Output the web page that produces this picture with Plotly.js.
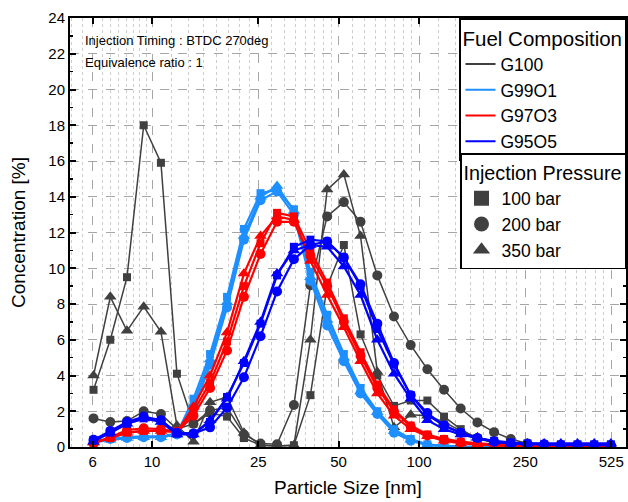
<!DOCTYPE html>
<html>
<head>
<meta charset="utf-8">
<script src="https://cdn.plot.ly/plotly-3.0.1.min.js"></script>
<style>html,body{margin:0;padding:0;background:#fff;}#chart{width:628px;height:502px;}</style>
</head>
<body>
<div id="chart"></div>
<script>
// Particle size bins (nm)
const sizes = [6.04, 6.98, 8.06, 9.31, 10.8, 12.4, 14.3, 16.5, 19.1, 22.1, 25.5, 29.4, 34.0, 39.2, 45.3, 52.3,
               60.4, 69.8, 80.6, 93.1, 107.5, 124.1, 143.3, 165.5, 191.1, 220.7, 254.8, 294.3, 339.8, 392.4, 453.2, 523.3];
const tickVals = [6, 10, 25, 50, 100, 250, 525];
const tickText = ['6', '10', '25', '50', '100', '250', '525'];

// G100
const g100_100 = [3.2, 6.0, 9.5, 18.0, 15.9, 4.1, 1.3, 1.9, 1.7, 0.5, 0.1, 0.05, 0.1, 2.9, 9.0, 11.3,
                  6.3, 4.0, 2.3, 2.6, 2.6, 1.7, 1.0, 0.45, 0.25, 0.15, 0.1, 0.1, 0.1, 0.1, 0.1, 0.1];
const g100_200 = [1.6, 1.4, 1.45, 2.0, 1.85, 1.0, 1.3, 2.05, 2.2, 0.7, 0.2, 0.15, 2.35, 9.05, 12.9, 13.7,
                  12.6, 9.6, 7.3, 5.7, 4.35, 3.2, 2.15, 1.37, 0.83, 0.45, 0.2, 0.1, 0.05, 0.05, 0.05, 0.05];
const g100_350 = [4.0, 8.4, 6.5, 7.85, 6.45, 1.2, 0.3, 2.5, 2.8, 0.8, 0.1, 0.05, 0.1, 6.0, 14.4, 15.25,
                  11.8, 4.2, 1.1, 1.8, 1.75, 1.4, 0.9, 0.55, 0.3, 0.2, 0.15, 0.1, 0.1, 0.1, 0.1, 0.1];
// G99O1
const g99_100 = [0.3, 0.45, 0.55, 0.6, 0.6, 0.75, 2.7, 5.2, 8.4, 12.2, 14.2, 14.4, 13.3, 9.8, 7.4, 5.2,
                 3.3, 2.0, 1.0, 0.45, 0.15, 0.05, 0.02, 0.01, 0, 0, 0, 0, 0, 0, 0, 0];
const g99_200 = [0.3, 0.45, 0.5, 0.55, 0.55, 0.7, 2.1, 4.6, 7.8, 11.6, 13.8, 14.3, 13.0, 9.3, 6.8, 4.8,
                 3.0, 1.85, 0.8, 0.35, 0.1, 0.05, 0.02, 0.01, 0, 0, 0, 0, 0, 0, 0, 0];
const g99_350 = [0.25, 0.4, 0.5, 0.55, 0.55, 0.7, 2.4, 4.9, 8.1, 11.8, 14.0, 14.6, 13.2, 9.5, 7.1, 5.0,
                 3.1, 1.95, 0.9, 0.4, 0.12, 0.05, 0.02, 0.01, 0, 0, 0, 0, 0, 0, 0, 0];
// G97O3
const g97_100 = [0.25, 0.5, 0.8, 0.9, 0.9, 0.85, 2.0, 3.6, 5.9, 9.0, 11.4, 13.1, 12.9, 11.0, 9.2, 7.2,
                 5.3, 3.5, 2.1, 1.2, 0.7, 0.45, 0.3, 0.2, 0.15, 0.1, 0.05, 0.05, 0.02, 0.02, 0.02, 0.02];
const g97_200 = [0.2, 0.55, 0.95, 1.05, 1.0, 0.85, 1.75, 3.3, 5.4, 8.4, 10.8, 12.6, 12.6, 10.7, 9.0, 7.0,
                 5.1, 3.3, 2.0, 1.15, 0.65, 0.4, 0.25, 0.15, 0.1, 0.05, 0.05, 0.02, 0.02, 0.02, 0.02, 0.02];
const g97_350 = [0.25, 0.5, 0.8, 0.9, 0.9, 0.85, 2.25, 4.0, 6.4, 9.7, 11.8, 12.9, 12.7, 10.4, 8.5, 6.7,
                 4.8, 3.0, 1.75, 1.0, 0.6, 0.35, 0.2, 0.15, 0.1, 0.05, 0.05, 0.02, 0.02, 0.02, 0.02, 0.02];
// G95O5
const g95_100 = [0.4, 0.8, 1.3, 1.6, 1.5, 0.75, 0.75, 1.4, 2.8, 4.7, 6.9, 9.6, 11.2, 11.6, 11.5, 10.6,
                 9.0, 6.6, 4.6, 2.9, 1.8, 1.2, 0.8, 0.5, 0.35, 0.25, 0.2, 0.15, 0.15, 0.15, 0.15, 0.15];
const g95_200 = [0.4, 0.9, 1.4, 1.7, 1.5, 0.8, 0.75, 1.1, 2.2, 3.9, 6.2, 8.7, 10.5, 11.3, 11.5, 10.6,
                 9.1, 6.9, 4.7, 2.9, 1.9, 1.2, 0.8, 0.5, 0.3, 0.2, 0.15, 0.15, 0.1, 0.1, 0.1, 0.1];
const g95_350 = [0.3, 0.8, 1.3, 1.6, 1.4, 0.7, 0.7, 1.5, 2.7, 4.8, 7.0, 9.7, 11.0, 11.3, 11.2, 10.1,
                 8.5, 6.0, 4.1, 2.7, 1.5, 1.0, 0.7, 0.5, 0.3, 0.2, 0.2, 0.2, 0.2, 0.2, 0.2, 0.2];

const fuelNames = ['G100', 'G99O1', 'G97O3', 'G95O5'];
const fuelColors = ['#404040', '#1e8fff', '#ff0000', '#0000ff'];
const pressureNames = ['100 bar', '200 bar', '350 bar'];
const pressureSymbols = ['square', 'circle', 'triangle-up'];
const seriesData = [
  [g100_100, g100_200, g100_350],
  [g99_100, g99_200, g99_350],
  [g97_100, g97_200, g97_350],
  [g95_100, g95_200, g95_350]
];

const markerSizes = [8, 10, 11];
const lineWidths = [1.5, 2.2, 2.2, 2.2];

const traces = [];
for (let f = 0; f < fuelNames.length; f++) {
  for (let p = 0; p < pressureNames.length; p++) {
    traces.push({
      type: 'scatter', mode: 'lines+markers',
      x: sizes, y: seriesData[f][p],
      name: fuelNames[f] + ' ' + pressureNames[p],
      showlegend: false,
      line: {color: fuelColors[f], width: lineWidths[f]},
      marker: {symbol: pressureSymbols[p], size: markerSizes[p], color: fuelColors[f]}
    });
  }
}
// legend entries
for (let f = 0; f < fuelNames.length; f++) {
  traces.push({type: 'scatter', mode: 'lines', x: [null], y: [null], name: fuelNames[f],
    legend: 'legend', line: {color: fuelColors[f], width: 2}});
}
for (let p = 0; p < pressureNames.length; p++) {
  traces.push({type: 'scatter', mode: 'markers', x: [null], y: [null], name: pressureNames[p],
    legend: 'legend2', marker: {symbol: pressureSymbols[p], size: 15, color: '#404040'}});
}

// minor grid positions between major ticks (8 subdivisions)
const minorBounds = [2, 6, 10, 25, 50, 100, 250, 525];
const minorVals = [];
for (let i = 0; i < minorBounds.length - 1; i++) {
  const a = minorBounds[i], b = minorBounds[i + 1];
  for (let k = 1; k < 8; k++) minorVals.push(a + (b - a) * k / 8);
}

const font = 'Liberation Sans, Arial, sans-serif';
const layout = {
  width: 628, height: 502,
  margin: {l: 70, r: 2, t: 18, b: 55},
  paper_bgcolor: '#ffffff', plot_bgcolor: '#ffffff',
  font: {family: font, color: '#000000', size: 15},
  xaxis: {
    type: 'log', range: [0.6929, 2.7753],
    tickmode: 'array', tickvals: tickVals, ticktext: tickText,
    ticks: 'inside', ticklen: 6, tickwidth: 2, tickcolor: '#000',
    showline: true, linewidth: 2, linecolor: '#000', mirror: 'ticks',
    showgrid: true, gridcolor: '#a6a6a6', griddash: 'dash', gridwidth: 1,
    minor: {tickmode: 'array', tickvals: minorVals, ticks: '', showgrid: true, gridcolor: '#cdcdcd', griddash: 'dot', gridwidth: 1},
    zeroline: false,
    tickfont: {size: 15, family: font},
    title: {text: 'Particle Size [nm]', font: {size: 19, family: font}, standoff: 12}
  },
  yaxis: {
    range: [0, 24], tickmode: 'linear', tick0: 0, dtick: 2,
    ticks: 'inside', ticklen: 6, tickwidth: 2, tickcolor: '#000',
    showline: true, linewidth: 2, linecolor: '#000', mirror: 'ticks',
    showgrid: true, gridcolor: '#a6a6a6', griddash: 'dash', gridwidth: 1,
    minor: {dtick: 1, ticks: 'inside', ticklen: 3, tickwidth: 1.5, tickcolor: '#000', showgrid: false},
    zeroline: false,
    tickfont: {size: 15, family: font},
    title: {text: 'Concentration [%]', font: {size: 19, family: font}, standoff: 18}
  },
  legend: {
    x: 1, xanchor: 'right', y: 1.0, yanchor: 'top',
    bgcolor: '#ffffff', bordercolor: '#000', borderwidth: 1.5,
    font: {size: 17.5, family: font, color: '#000'},
    title: {text: 'Fuel Composition', font: {size: 20.5, family: font, color: '#000'}},
    tracegroupgap: 0
  },
  legend2: {
    x: 1, xanchor: 'right', y: 0.685, yanchor: 'top',
    bgcolor: '#ffffff', bordercolor: '#000', borderwidth: 1.5,
    font: {size: 17.5, family: font, color: '#000'},
    title: {text: 'Injection Pressure', font: {size: 19.75, family: font, color: '#000'}},
    tracegroupgap: 0
  },
  annotations: [
    {xref: 'paper', yref: 'paper', x: 0.0234, y: 0.9464, xanchor: 'left', yanchor: 'middle', showarrow: false,
     text: 'Injection Timing : BTDC 270deg', font: {size: 13, family: font, color: '#000'}},
    {xref: 'paper', yref: 'paper', x: 0.0234, y: 0.8974, xanchor: 'left', yanchor: 'middle', showarrow: false,
     text: 'Equivalence ratio : 1', font: {size: 13, family: font, color: '#000'}}
  ],
  showlegend: true
};

Plotly.newPlot('chart', traces, layout, {displayModeBar: false, staticPlot: true});
</script>
</body>
</html>
